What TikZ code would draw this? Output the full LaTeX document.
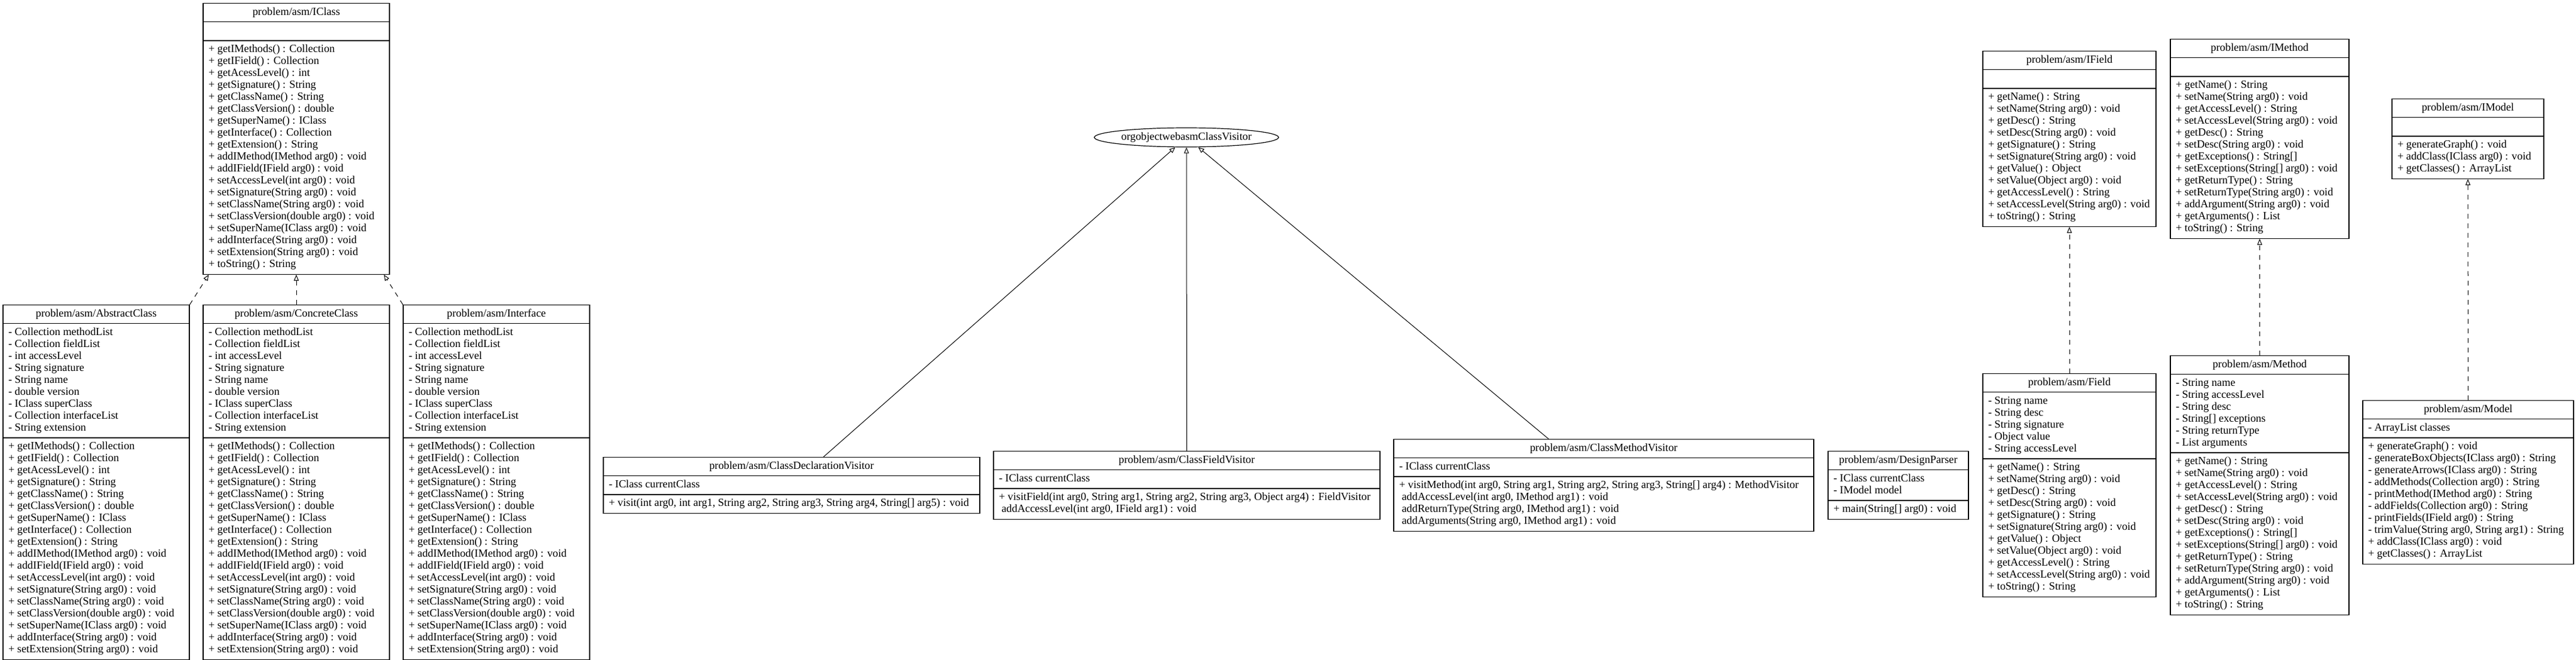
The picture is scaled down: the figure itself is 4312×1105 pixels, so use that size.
\documentclass[tikz,border=0pt]{standalone}
\usepackage{fontspec}
\setmainfont{Liberation Serif}
\usetikzlibrary{shapes.multipart, shapes.geometric, arrows.meta}

\newcommand{\umlfont}{\fontsize{18.3}{20}\selectfont\lineskiplimit=-20pt\relax}

\tikzset{
    umlclass/.style = {draw, line width = 1.2pt, anchor = north, rectangle split,
        rectangle split parts = 3, rectangle split part align = {center, left, left},
        align = left, inner xsep = 9pt, inner ysep = 5pt, font = \umlfont},
    umlinterface/.style = {draw, ellipse, line width = 1.2pt, inner sep = 0pt,
        minimum height = 32pt, font = \umlfont},
    realizes/.style = {line width = 1pt, dash pattern = on 8pt off 8pt,
        -{Triangle[open, length = 10pt, width = 8pt]}},
    extends/.style = {line width = 1pt, -{Triangle[open, length = 10pt, width = 8pt]}}
}

\begin{document}
\begin{tikzpicture}[x = 1pt, y = -1pt]
    \fill[white] (0, 0) rectangle (4312, 1105);

    % interfaces, top row
    \node[umlclass, minimum width = 312pt] (iclass) at ( 496, 5) {\strut problem/asm/IClass
        \nodepart{two}\strut
        \nodepart{three}\strut + getIMethods() : Collection\\
        + getIField() : Collection\\
        + getAcessLevel() : int\\
        + getSignature() : String\\
        + getClassName() : String\\
        + getClassVersion() : double\\
        + getSuperName() : IClass\\
        + getInterface() : Collection\\
        + getExtension() : String\\
        + addIMethod(IMethod arg0) : void\\
        + addIField(IField arg0) : void\\
        + setAccessLevel(int arg0) : void\\
        + setSignature(String arg0) : void\\
        + setClassName(String arg0) : void\\
        + setClassVersion(double arg0) : void\\
        + setSuperName(IClass arg0) : void\\
        + addInterface(String arg0) : void\\
        + setExtension(String arg0) : void\\
        + toString() : String\strut};

    \node[umlinterface] (visitor) at (1986, 230) {\strut orgobjectwebasmClassVisitor};

    \node[umlclass, minimum width = 290pt] (ifield) at (3464, 85) {\strut problem/asm/IField
        \nodepart{two}\strut
        \nodepart{three}\strut + getName() : String\\
        + setName(String arg0) : void\\
        + getDesc() : String\\
        + setDesc(String arg0) : void\\
        + getSignature() : String\\
        + setSignature(String arg0) : void\\
        + getValue() : Object\\
        + setValue(Object arg0) : void\\
        + getAccessLevel() : String\\
        + setAccessLevel(String arg0) : void\\
        + toString() : String\strut};

    \node[umlclass, minimum width = 299pt] (imethod) at (3782.5, 65) {\strut problem/asm/IMethod
        \nodepart{two}\strut
        \nodepart{three}\strut + getName() : String\\
        + setName(String arg0) : void\\
        + getAccessLevel() : String\\
        + setAccessLevel(String arg0) : void\\
        + getDesc() : String\\
        + setDesc(String arg0) : void\\
        + getExceptions() : String[]\\
        + setExceptions(String[] arg0) : void\\
        + getReturnType() : String\\
        + setReturnType(String arg0) : void\\
        + addArgument(String arg0) : void\\
        + getArguments() : List\\
        + toString() : String\strut};

    \node[umlclass, minimum width = 254pt] (imodel) at (4131, 165) {\strut problem/asm/IModel
        \nodepart{two}\strut
        \nodepart{three}\strut + generateGraph() : void\\
        + addClass(IClass arg0) : void\\
        + getClasses() : ArrayList\strut};

    % classes, bottom row
    \node[umlclass, minimum width = 312pt] (abstract) at ( 161, 510) {\strut problem/asm/AbstractClass
        \nodepart{two}\strut - Collection methodList\\
        - Collection fieldList\\
        - int accessLevel\\
        - String signature\\
        - String name\\
        - double version\\
        - IClass superClass\\
        - Collection interfaceList\\
        - String extension\strut
        \nodepart{three}\strut + getIMethods() : Collection\\
        + getIField() : Collection\\
        + getAcessLevel() : int\\
        + getSignature() : String\\
        + getClassName() : String\\
        + getClassVersion() : double\\
        + getSuperName() : IClass\\
        + getInterface() : Collection\\
        + getExtension() : String\\
        + addIMethod(IMethod arg0) : void\\
        + addIField(IField arg0) : void\\
        + setAccessLevel(int arg0) : void\\
        + setSignature(String arg0) : void\\
        + setClassName(String arg0) : void\\
        + setClassVersion(double arg0) : void\\
        + setSuperName(IClass arg0) : void\\
        + addInterface(String arg0) : void\\
        + setExtension(String arg0) : void\strut};

    \node[umlclass, minimum width = 312pt] (concrete) at ( 496, 510) {\strut problem/asm/ConcreteClass
        \nodepart{two}\strut - Collection methodList\\
        - Collection fieldList\\
        - int accessLevel\\
        - String signature\\
        - String name\\
        - double version\\
        - IClass superClass\\
        - Collection interfaceList\\
        - String extension\strut
        \nodepart{three}\strut + getIMethods() : Collection\\
        + getIField() : Collection\\
        + getAcessLevel() : int\\
        + getSignature() : String\\
        + getClassName() : String\\
        + getClassVersion() : double\\
        + getSuperName() : IClass\\
        + getInterface() : Collection\\
        + getExtension() : String\\
        + addIMethod(IMethod arg0) : void\\
        + addIField(IField arg0) : void\\
        + setAccessLevel(int arg0) : void\\
        + setSignature(String arg0) : void\\
        + setClassName(String arg0) : void\\
        + setClassVersion(double arg0) : void\\
        + setSuperName(IClass arg0) : void\\
        + addInterface(String arg0) : void\\
        + setExtension(String arg0) : void\strut};

    \node[umlclass, minimum width = 312pt] (interface) at ( 831, 510) {\strut problem/asm/Interface
        \nodepart{two}\strut - Collection methodList\\
        - Collection fieldList\\
        - int accessLevel\\
        - String signature\\
        - String name\\
        - double version\\
        - IClass superClass\\
        - Collection interfaceList\\
        - String extension\strut
        \nodepart{three}\strut + getIMethods() : Collection\\
        + getIField() : Collection\\
        + getAcessLevel() : int\\
        + getSignature() : String\\
        + getClassName() : String\\
        + getClassVersion() : double\\
        + getSuperName() : IClass\\
        + getInterface() : Collection\\
        + getExtension() : String\\
        + addIMethod(IMethod arg0) : void\\
        + addIField(IField arg0) : void\\
        + setAccessLevel(int arg0) : void\\
        + setSignature(String arg0) : void\\
        + setClassName(String arg0) : void\\
        + setClassVersion(double arg0) : void\\
        + setSuperName(IClass arg0) : void\\
        + addInterface(String arg0) : void\\
        + setExtension(String arg0) : void\strut};

    % visitors
    \node[umlclass, minimum width = 630pt] (decl) at (1325, 765) {\strut problem/asm/ClassDeclarationVisitor
        \nodepart{two}\strut - IClass currentClass\strut
        \nodepart{three}\strut + visit(int arg0, int arg1, String arg2, String arg3, String arg4, String[] arg5) : void\strut};

    \node[umlclass, minimum width = 647pt] (fieldvisitor) at (1986.5, 755) {\strut problem/asm/ClassFieldVisitor
        \nodepart{two}\strut - IClass currentClass\strut
        \nodepart{three}\strut + visitField(int arg0, String arg1, String arg2, String arg3, Object arg4) : FieldVisitor\\
        \ addAccessLevel(int arg0, IField arg1) : void\strut};

    \node[umlclass, minimum width = 703pt] (methodvisitor) at (2684.5, 735) {\strut problem/asm/ClassMethodVisitor
        \nodepart{two}\strut - IClass currentClass\strut
        \nodepart{three}\strut + visitMethod(int arg0, String arg1, String arg2, String arg3, String[] arg4) : MethodVisitor\\
        \ addAccessLevel(int arg0, IMethod arg1) : void\\
        \ addReturnType(String arg0, IMethod arg1) : void\\
        \ addArguments(String arg0, IMethod arg1) : void\strut};

    \node[umlclass, minimum width = 235pt] (parser) at (3177.5, 755) {\strut problem/asm/DesignParser
        \nodepart{two}\strut - IClass currentClass\\
        - IModel model\strut
        \nodepart{three}\strut + main(String[] arg0) : void\strut};

    % implementations, right side
    \node[umlclass, minimum width = 290pt] (field) at (3464, 625) {\strut problem/asm/Field
        \nodepart{two}\strut - String name\\
        - String desc\\
        - String signature\\
        - Object value\\
        - String accessLevel\strut
        \nodepart{three}\strut + getName() : String\\
        + setName(String arg0) : void\\
        + getDesc() : String\\
        + setDesc(String arg0) : void\\
        + getSignature() : String\\
        + setSignature(String arg0) : void\\
        + getValue() : Object\\
        + setValue(Object arg0) : void\\
        + getAccessLevel() : String\\
        + setAccessLevel(String arg0) : void\\
        + toString() : String\strut};

    \node[umlclass, minimum width = 299pt] (method) at (3782.5, 595) {\strut problem/asm/Method
        \nodepart{two}\strut - String name\\
        - String accessLevel\\
        - String desc\\
        - String[] exceptions\\
        - String returnType\\
        - List arguments\strut
        \nodepart{three}\strut + getName() : String\\
        + setName(String arg0) : void\\
        + getAccessLevel() : String\\
        + setAccessLevel(String arg0) : void\\
        + getDesc() : String\\
        + setDesc(String arg0) : void\\
        + getExceptions() : String[]\\
        + setExceptions(String[] arg0) : void\\
        + getReturnType() : String\\
        + setReturnType(String arg0) : void\\
        + addArgument(String arg0) : void\\
        + getArguments() : List\\
        + toString() : String\strut};

    \node[umlclass, minimum width = 353pt] (model) at (4131.5, 670) {\strut problem/asm/Model
        \nodepart{two}\strut - ArrayList classes\strut
        \nodepart{three}\strut + generateGraph() : void\\
        - generateBoxObjects(IClass arg0) : String\\
        - generateArrows(IClass arg0) : String\\
        - addMethods(Collection arg0) : String\\
        - printMethod(IMethod arg0) : String\\
        - addFields(Collection arg0) : String\\
        - printFields(IField arg0) : String\\
        - trimValue(String arg0, String arg1) : String\\
        + addClass(IClass arg0) : void\\
        + getClasses() : ArrayList\strut};

    % realizations
    \draw[realizes] (abstract.north east) -- ([xshift = 10pt]iclass.south west);
    \draw[realizes] (concrete) -- (iclass);
    \draw[realizes] (interface.north west) -- ([xshift = -10pt]iclass.south east);
    \draw[realizes] (field) -- (ifield);
    \draw[realizes] (method) -- (imethod);
    \draw[realizes] (model) -- (imodel);

    % extensions of the visitor
    \draw[extends] (decl) -- (visitor);
    \draw[extends] (fieldvisitor) -- (visitor);
    \draw[extends] (methodvisitor) -- (visitor);
\end{tikzpicture}
\end{document}
